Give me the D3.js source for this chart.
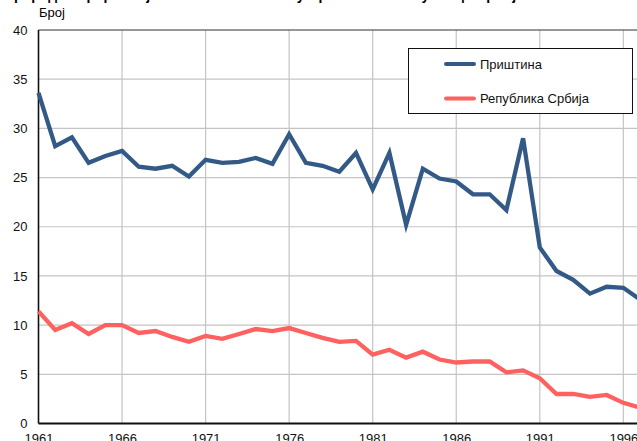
<!DOCTYPE html>
<html>
<head>
<meta charset="utf-8">
<script src="https://cdn.jsdelivr.net/npm/d3@7"></script>
<style>
  body { margin: 0; background: #fff; }
  svg { display: block; font-family: "Liberation Sans", Arial, sans-serif; }
</style>
</head>
<body>
<div id="the_chart"></div>
<script>
// years and values
var years = d3.range(1961, 1998);
var pristina = [33.6, 28.2, 29.1, 26.5, 27.2, 27.7, 26.1, 25.9, 26.2, 25.1,
                26.8, 26.5, 26.6, 27.0, 26.4, 29.4, 26.5, 26.2, 25.6, 27.5,
                23.8, 27.5, 20.2, 25.9, 24.9, 24.6, 23.3, 23.3, 21.7, 29.0,
                17.9, 15.5, 14.6, 13.2, 13.9, 13.8, 12.6];
var srbija = [11.4, 9.5, 10.2, 9.1, 10.0, 10.0, 9.2, 9.4, 8.8, 8.3,
              8.9, 8.6, 9.1, 9.6, 9.4, 9.7, 9.2, 8.7, 8.3, 8.4,
              7.0, 7.5, 6.7, 7.3, 6.5, 6.2, 6.3, 6.3, 5.2, 5.4,
              4.6, 3.0, 3.0, 2.7, 2.9, 2.1, 1.6];
var seriesNames = ["Приштина", "Република Србија"];
var seriesColors = ["#335a87", "#ff6161"];
var yTicks = [0, 5, 10, 15, 20, 25, 30, 35, 40];
var xTicks = [1961, 1966, 1971, 1976, 1981, 1986, 1991, 1996, 2001];
var title = "Природни прираштај на 1.000 становника у Приштини и Републици Србији";

gen_vis();

function gen_vis() {
  var w = 637, h = 441;
  var padLeft = 38.5, padTop = 30, padBottom = 423.5;

  var svg = d3.select("#the_chart").append("svg")
    .attr("width", w).attr("height", h);

  var x = d3.scaleLinear().domain([1961, 2001]).range([padLeft, padLeft + 40 * 16.71]);
  var y = d3.scaleLinear().domain([0, 40]).range([padBottom, padTop]);

  // title (cut off at the top in the original)
  svg.append("text")
    .attr("x", 4).attr("y", 0)
    .attr("font-size", 14).attr("font-weight", "bold")
    .attr("fill", "#000")
    .text(title);

  svg.append("text")
    .attr("x", 39).attr("y", 17)
    .attr("font-size", 13)
    .text("Број");

  // grid
  svg.append("g").selectAll("line")
    .data(yTicks.slice(1, -1)).enter().append("line")
    .attr("x1", padLeft).attr("x2", w)
    .attr("y1", function (d) { return y(d); })
    .attr("y2", function (d) { return y(d); })
    .attr("stroke", "#c4c4c4").attr("stroke-width", 1.2);
  svg.append("g").selectAll("line")
    .data(xTicks.slice(1)).enter().append("line")
    .attr("x1", function (d) { return x(d); })
    .attr("x2", function (d) { return x(d); })
    .attr("y1", padTop).attr("y2", padBottom)
    .attr("stroke", "#c4c4c4").attr("stroke-width", 1.2);

  // axes
  var yaxis = d3.axisLeft(y).tickValues(yTicks).tickSize(0).tickPadding(11);
  svg.append("g").attr("transform", "translate(" + padLeft + ",0)")
    .call(yaxis)
    .call(function (g) { g.select(".domain").remove(); })
    .selectAll("text").attr("font-size", 13).attr("fill", "#111")
    .attr("font-family", "Liberation Sans, Arial, sans-serif");

  var xaxis = d3.axisBottom(x).tickValues(xTicks).tickSize(0).tickPadding(10)
    .tickFormat(d3.format("d"));
  svg.append("g").attr("transform", "translate(0," + padBottom + ")")
    .call(xaxis)
    .call(function (g) { g.select(".domain").remove(); })
    .selectAll("text").attr("font-size", 13).attr("fill", "#111")
    .attr("font-family", "Liberation Sans, Arial, sans-serif");

  // frame
  svg.append("line").attr("x1", padLeft).attr("x2", w).attr("y1", padTop).attr("y2", padTop)
    .attr("stroke", "#333").attr("stroke-width", 1.2);
  svg.append("line").attr("x1", padLeft).attr("x2", padLeft).attr("y1", padTop).attr("y2", padBottom)
    .attr("stroke", "#111").attr("stroke-width", 1.6);
  svg.append("line").attr("x1", padLeft).attr("x2", w).attr("y1", padBottom).attr("y2", padBottom)
    .attr("stroke", "#111").attr("stroke-width", 1.8);

  // lines
  var line = d3.line()
    .x(function (d, i) { return x(years[i]); })
    .y(function (d) { return y(d); });
  [pristina, srbija].forEach(function (s, k) {
    svg.append("path").datum(s)
      .attr("d", line)
      .attr("fill", "none")
      .attr("stroke", seriesColors[k])
      .attr("stroke-width", 4.3)
      .attr("stroke-linejoin", "miter");
  });

  // legend
  var lg = svg.append("g");
  lg.append("rect").attr("x", 408.5).attr("y", 48.5).attr("width", 224).attr("height", 65)
    .attr("fill", "#fff").attr("stroke", "#111").attr("stroke-width", 1);
  seriesNames.forEach(function (n, k) {
    var ly = 64 + k * 34.5;
    lg.append("line").attr("x1", 446).attr("x2", 474).attr("y1", ly).attr("y2", ly)
      .attr("stroke", seriesColors[k]).attr("stroke-width", 4).attr("stroke-linecap", "round");
    lg.append("text").attr("x", 480).attr("y", ly + 4.5)
      .attr("font-size", 13).attr("fill", "#111").text(n);
  });
}
</script>
</body>
</html>
